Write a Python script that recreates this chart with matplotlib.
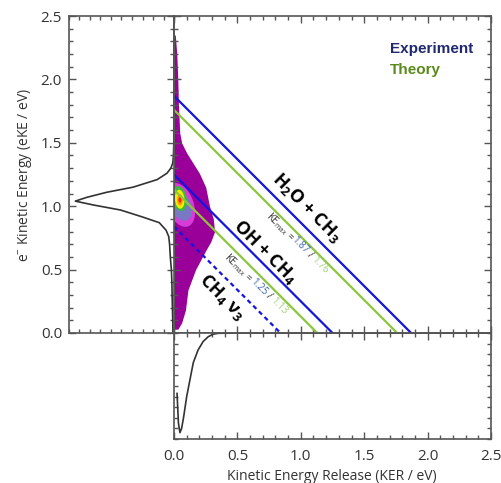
import matplotlib
matplotlib.use("Agg")
import matplotlib.pyplot as plt
from matplotlib.patches import Ellipse
from matplotlib.ticker import MultipleLocator, FormatStrFormatter
import numpy as np

plt.rcParams['font.family'] = ['Open Sans', 'DejaVu Sans']
plt.rcParams['mathtext.fontset'] = 'custom'
plt.rcParams['mathtext.rm'] = 'Open Sans'
plt.rcParams['mathtext.it'] = 'Open Sans:italic'
plt.rcParams['mathtext.bf'] = 'Open Sans:bold'

# ---- data ----
# electron kinetic energy projection (left panel)
eke_profile_x = [0.0, 0.1, 0.2, 0.3, 0.4, 0.5, 0.6, 0.7, 0.76, 0.81, 0.87, 0.915,
                 0.97, 1.01, 1.04, 1.07, 1.11, 1.15, 1.21, 1.26, 1.30, 1.34, 1.40,
                 1.5, 2.5]
eke_profile_y = [0.01, 0.012, 0.015, 0.018, 0.02, 0.025, 0.035, 0.042, 0.05, 0.075,
                 0.14, 0.30, 0.51, 0.77, 0.94, 0.83, 0.64, 0.39, 0.16, 0.067, 0.03,
                 0.012, 0.005, 0.002, 0.0]

# kinetic energy release projection (bottom panel)
ker_profile_x = [0.024, 0.035, 0.047, 0.06, 0.075, 0.10, 0.126, 0.152, 0.19, 0.23,
                 0.27, 0.31, 0.35, 0.5, 2.5]
ker_profile_y = [0.57, 0.85, 0.94, 0.90, 0.80, 0.60, 0.44, 0.28, 0.16, 0.08,
                 0.035, 0.01, 0.003, 0.0, 0.0]

# outer edge of the coincidence distribution (eKE vs. max KER)
dist_eke = [0.03, 0.08, 0.18, 0.34, 0.50, 0.65, 0.72, 0.80, 0.90, 1.00, 1.15,
            1.26, 1.34, 1.42, 1.50, 1.58]
dist_ker = [0.03, 0.06, 0.09, 0.11, 0.17, 0.25, 0.29, 0.32, 0.31, 0.28, 0.25,
            0.20, 0.15, 0.10, 0.06, 0.045]
sparse_eke = [1.58, 1.8, 2.0, 2.2, 2.35]
sparse_ker = [0.045, 0.035, 0.03, 0.022, 0.01]

# intensity contours of the peak: (KER, eKE, width, height, angle)
peak_levels = [
    (0.05, 1.01, 0.21, 0.36, 20),
    (0.055, 1.00, 0.16, 0.24, 25),
    (0.045, 1.06, 0.11, 0.20, 10),
    (0.045, 1.055, 0.075, 0.15, 5),
    (0.047, 1.05, 0.045, 0.09, 0),
    (0.047, 1.05, 0.022, 0.045, 0),
]
peak_colors = ['#d83cd8', '#7878c4', '#3cb83c', '#f2f000', '#ff9a00', '#ff2000']

# energetic limits (KE_max) for each channel
ke_max_exp = [1.87, 1.25]
ke_max_theory = [1.76, 1.13]
ke_v3 = 0.84

BLUE = '#1414e0'
GREEN = '#8cc63e'
SPINE = '#555555'

W, H = 502, 483
fig = plt.figure(figsize=(W / 100, H / 100), dpi=100)

def frac(x0, y0, x1, y1):
    return [x0 / W, 1 - y1 / H, (x1 - x0) / W, (y1 - y0) / H]

ax = fig.add_axes(frac(174, 16, 491, 333))
axl = fig.add_axes(frac(69, 16, 174, 333))
axb = fig.add_axes(frac(174, 333, 491, 439))

for a in (ax, axl, axb):
    for s in a.spines.values():
        s.set_color(SPINE)
        s.set_linewidth(1.2)
    a.tick_params(which='both', direction='in', color=SPINE, width=1.0,
                  top=True, bottom=True, left=True, right=True)
    a.tick_params(which='major', length=5)
    a.tick_params(which='minor', length=3)

# main map
ax.set_xlim(0, 2.5)
ax.set_ylim(0, 2.5)
for axis in (ax.xaxis, ax.yaxis):
    axis.set_major_locator(MultipleLocator(0.5))
    axis.set_minor_locator(MultipleLocator(0.1))
ax.tick_params(labelbottom=False, labelleft=False)

ax.fill_betweenx(dist_eke, 0, dist_ker, color='#9a0099', lw=0, zorder=1)
ax.fill_betweenx(sparse_eke, 0, sparse_ker, color='#9a0099', lw=0, zorder=1)
for (cx, cy, w, h, ang), col in zip(peak_levels, peak_colors):
    ax.add_patch(Ellipse((cx, cy), w, h, angle=ang, facecolor=col, edgecolor='none', zorder=2))

for e, t in zip(ke_max_exp, ke_max_theory):
    ax.plot([0, e], [e, 0], color=BLUE, lw=1.6, zorder=3)
    ax.plot([0, t], [t, 0], color=GREEN, lw=1.6, zorder=3)
ax.plot([0, ke_v3], [ke_v3, 0], color=BLUE, lw=1.6, ls=(0, (2, 1.6)), zorder=3)

lab = dict(rotation=-45, fontsize=13, fontweight='bold', ha='center', va='center',
           rotation_mode='anchor', zorder=4)
ax.text(1.05, 0.99, r'H$_\mathbf{2}$O + CH$_\mathbf{3}$', **lab)
ax.text(0.72, 0.64, r'OH + CH$_\mathbf{4}$', **lab)
ax.text(0.38, 0.28, r'CH$_\mathbf{4}$ $\mathbf{\nu}_\mathbf{3}$', **lab)

# multi-coloured KE_max annotations along the lines
renderer = fig.canvas.get_renderer()

def colored_rotated(x, y, pieces, size=7):
    widths = []
    for s, c in pieces:
        t = fig.text(0, 0, s, fontsize=size)
        widths.append(t.get_window_extent(renderer).width)
        t.remove()
    total = sum(widths)
    ang = np.deg2rad(-45)
    off = -total / 2
    for (s, c), w in zip(pieces, widths):
        dx = off * np.cos(ang) * 72 / 100
        dy = off * np.sin(ang) * 72 / 100
        ax.annotate(s, xy=(x, y), xytext=(dx, dy), textcoords='offset points',
                    rotation=-45, rotation_mode='anchor', ha='left',
                    va='center_baseline', fontsize=size, color=c, zorder=4)
        off += w

for (x, y), e, t in zip([(0.98, 0.72), (0.655, 0.394)], ke_max_exp, ke_max_theory):
    colored_rotated(x, y, [(r'KE$_{\rm max}$ = ', '#333333'), (f'{e:.2f}', '#3f63b0'),
                           (' / ', '#333333'), (f'{t:.2f}', '#9fd07a')])

fig.text(390 / W, 1 - 49 / H, 'Experiment', color='#1f2a6e', fontsize=11,
         fontweight='bold', family='Liberation Sans', va='center')
fig.text(390 / W, 1 - 70 / H, 'Theory', color='#5a8a1c', fontsize=11,
         fontweight='bold', family='Liberation Sans', va='center')

# eKE projection
axl.set_ylim(0, 2.5)
axl.set_xlim(1.0, 0.0)
axl.yaxis.set_major_locator(MultipleLocator(0.5))
axl.yaxis.set_minor_locator(MultipleLocator(0.1))
axl.xaxis.set_major_locator(MultipleLocator(0.1))
axl.xaxis.set_minor_locator(MultipleLocator(0.1))
axl.tick_params(axis='x', which='both', length=3, labelbottom=False)
axl.tick_params(axis='y', labelsize=11, labelcolor='#333333', pad=5)
axl.yaxis.set_major_formatter(FormatStrFormatter('%.1f'))
axl.plot(eke_profile_y, eke_profile_x, color='#333333', lw=1.2)
axl.set_ylabel(r'e$^{-}$ Kinetic Energy (eKE / eV)', fontsize=10, color='#333333', labelpad=5)

# KER projection
axb.set_xlim(0, 2.5)
axb.set_ylim(1.0, 0.0)
axb.xaxis.set_major_locator(MultipleLocator(0.5))
axb.xaxis.set_minor_locator(MultipleLocator(0.1))
axb.yaxis.set_major_locator(MultipleLocator(0.1))
axb.yaxis.set_minor_locator(MultipleLocator(0.1))
axb.tick_params(axis='y', which='both', length=3, labelleft=False)
axb.tick_params(axis='x', labelsize=11, labelcolor='#333333', pad=7)
axb.xaxis.set_major_formatter(FormatStrFormatter('%.1f'))
axb.plot(ker_profile_x, ker_profile_y, color='#333333', lw=1.2)
fig.text(332 / W, 1 - 477 / H, 'Kinetic Energy Release (KER / eV)', fontsize=10,
         color='#333333', ha='center', va='center')

fig.savefig('out.png', dpi=100)
